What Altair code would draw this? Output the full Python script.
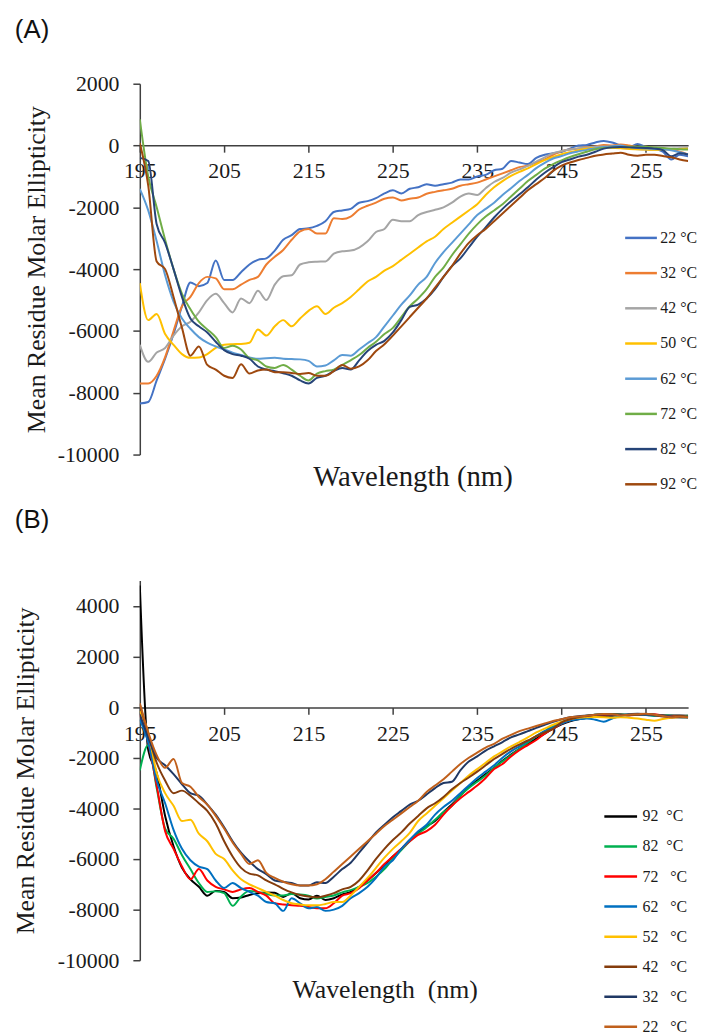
import altair as alt
import pandas as pd

WL = list(range(195, 261))
XTICKS = [195, 205, 215, 225, 235, 245, 255]

# ---------------- Panel A ----------------
A_LABELS = ["22 °C", "32 °C", "42 °C", "50 °C", "62 °C", "72 °C", "82 °C", "92 °C"]
A_COLORS = ["#4472C4", "#ED7D31", "#A5A5A5", "#FFC000", "#5B9BD5", "#70AD47", "#264478", "#9E480E"]

A_22 = [-8350, -8300, -7600, -6900, -6100, -5200, -4430, -4550, -4450, -3720,
        -4350, -4350, -4100, -3850, -3700, -3650, -3400, -3050, -2900, -2700,
        -2680, -2600, -2450, -2150, -2100, -2050, -1850, -1800, -1700, -1550,
        -1450, -1550, -1400, -1350, -1250, -1300, -1250, -1200, -1100, -1100,
        -1000, -950, -800, -750, -500, -550, -600, -400, -300, -250,
        -200, -100, 0, 20, 100, 150, 100, 0, -50, 50,
        -50, -100, -200, -450, -300, -350]
A_32 = [-7700, -7700, -7450, -6850, -6000, -5200, -4900, -4450, -4250, -4300,
        -4650, -4650, -4500, -4350, -4250, -3850, -3600, -3380, -3050, -2780,
        -2700, -2850, -2850, -2350, -2380, -2300, -2070, -1950, -1850, -1720,
        -1680, -1780, -1720, -1680, -1560, -1500, -1450, -1400, -1300, -1250,
        -1200, -1100, -1000, -900, -800, -700, -650, -550, -450, -300,
        -180, -130, -100, -50, -30, 20, 0, 30, 0, -50,
        -40, -80, -100, -130, -200, -290]
A_42 = [-6450, -7000, -6700, -6550, -6150, -5850, -5700, -5400, -5000, -4800,
        -5100, -5400, -4950, -5100, -4700, -5000, -4500, -4230, -4200, -3850,
        -3780, -3760, -3750, -3500, -3420, -3400, -3300, -3100, -2800, -2700,
        -2400, -2450, -2450, -2250, -2150, -2080, -2000, -1850, -1650, -1550,
        -1600, -1380, -1180, -1050, -880, -770, -660, -520, -380, -250,
        -180, -130, -90, -60, -40, -30, -50, -80, -100, -120,
        -130, -140, -120, -100, -90, -80]
A_50 = [-4450, -5650, -5450, -6100, -6450, -6750, -6870, -6860, -6750, -6550,
        -6450, -6430, -6420, -6380, -5950, -6150, -5850, -5650, -5850, -5600,
        -5350, -5200, -5450, -5250, -5100, -4900, -4650, -4400, -4250, -4050,
        -3900, -3700, -3500, -3300, -3100, -2950, -2700, -2500, -2300, -2100,
        -1900, -1600, -1350, -1150, -980, -850, -740, -600, -470, -370,
        -280, -220, -150, -100, -80, -70, -80, -90, -110, -120,
        -130, -140, -130, -120, -110, -100]
A_62 = [-1400, -2100, -3100, -4200, -5050, -5600, -5930, -6200, -6380, -6500,
        -6600, -6700, -6780, -6860, -6900, -6880, -6870, -6900, -6910, -6920,
        -6970, -7150, -7120, -6950, -6780, -6800, -6600, -6400, -6200, -5850,
        -5500, -5150, -4850, -4500, -4250, -3800, -3450, -3150, -2850, -2550,
        -2250, -2050, -1850, -1600, -1380, -1150, -950, -730, -560, -420,
        -340, -250, -190, -140, -90, -50, -20, 0, -50, -80,
        -100, -110, -120, -150, -220, -290]
A_72 = [850, -1000, -2000, -3050, -4000, -4800, -5300, -5700, -5950, -6200,
        -6550, -6480, -6600, -6880, -6950, -7150, -7200, -7100, -7250, -7450,
        -7600, -7380, -7300, -7250, -7100, -6950, -6780, -6550, -6350, -6100,
        -5900, -5550, -5200, -4950, -4650, -4250, -3950, -3550, -3200, -2850,
        -2550, -2300, -2100, -1900, -1650, -1400, -1150, -950, -750, -600,
        -480, -370, -280, -200, -120, -80, -60, -50, -40, -40,
        -40, -60, -80, -100, -120, -130]
A_82 = [-400, -500, -2550, -3150, -4000, -4900, -5600, -5850, -6050, -6350,
        -6620, -6750, -6800, -6900, -7150, -7250, -7300, -7370, -7450, -7600,
        -7700, -7520, -7450, -7300, -7200, -7250, -6950, -6650, -6450, -6320,
        -6050, -5650, -5220, -5150, -4950, -4650, -4250, -3900, -3650, -3300,
        -2950, -2650, -2330, -2050, -1800, -1580, -1350, -1100, -880, -700,
        -540, -450, -360, -300, -200, -100, -60, -50, -60, -70,
        -80, -100, -150, -350, -250, -290]
A_92 = [80, -1300, -3750, -4000, -4900, -5900, -6800, -6500, -7100, -7250,
        -7450, -7520, -7080, -7380, -7280, -7250, -7340, -7340, -7360, -7390,
        -7360, -7450, -7450, -7300, -7100, -7220, -7150, -6950, -6650, -6430,
        -6150, -5850, -5550, -5250, -4950, -4600, -4250, -3900, -3500, -3150,
        -2900, -2700, -2450, -2200, -1950, -1700, -1450, -1250, -1050, -820,
        -650, -550, -470, -400, -330, -290, -260, -230, -300, -330,
        -300, -300, -340, -380, -450, -500]
A_SERIES = [A_22, A_32, A_42, A_50, A_62, A_72, A_82, A_92]

# ---------------- Panel B ----------------
NB = "\u00a0"
B_LABELS = ["92" + NB * 2 + "°C", "82" + NB * 2 + "°C", "72" + NB * 3 + "°C", "62" + NB * 3 + "°C",
            "52" + NB * 3 + "°C", "42" + NB * 3 + "°C", "32" + NB * 3 + "°C", "22" + NB * 3 + "°C"]
B_COLORS = ["#000000", "#00B050", "#FF0000", "#0070C0", "#FFC000", "#843C0C", "#203864", "#C0601C"]

B_92 = [4800, -1700, -2600, -4300, -5500, -6350, -6800, -7100, -7450, -7260,
        -7300, -7550, -7520, -7420, -7350, -7320, -7330, -7500, -7350, -7550,
        -7600, -7450, -7620, -7550, -7400, -7300, -7100, -6850, -6550, -6250,
        -5900, -5600, -5250, -4950, -4700, -4500, -4150, -3850, -3500, -3150,
        -2900, -2650, -2400, -2120, -1880, -1650, -1450, -1250, -1050, -850,
        -680, -560, -480, -420, -380, -350, -340, -320, -300, -280,
        -290, -320, -340, -330, -330, -340]
B_82 = [-2500, -1500, -3200, -4800, -5200, -5850, -6400, -6950, -7300, -7280,
        -7350, -7850, -7480, -7260, -7300, -7380, -7440, -7440, -7380, -7400,
        -7450, -7560, -7500, -7440, -7320, -7230, -7100, -6950, -6700, -6400,
        -6000, -5650, -5300, -5000, -4750, -4450, -4150, -3900, -3500, -3200,
        -2950, -2700, -2400, -2150, -1900, -1650, -1400, -1150, -950, -760,
        -600, -480, -400, -340, -300, -280, -270, -280, -300, -280,
        -300, -350, -320, -340, -360, -340]
B_72 = [-300, -1400, -3100, -4900, -5600, -6300, -6800, -6400, -6850, -7100,
        -7200, -7300, -7200, -7150, -7300, -7450, -7750, -7800, -7830, -7850,
        -7900, -7950, -7950, -7750, -7450, -7350, -7150, -6850, -6550, -6200,
        -5900, -5600, -5300, -5050, -4900, -4650, -4250, -3900, -3600, -3350,
        -3100, -2800, -2450, -2250, -1950, -1700, -1500, -1300, -1050, -850,
        -650, -520, -430, -380, -340, -320, -300, -300, -320, -300,
        -290, -280, -330, -360, -370, -380]
B_62 = [-500, -1400, -2900, -3800, -4850, -5600, -6050, -6300, -6400, -6850,
        -7150, -6950, -7150, -7300, -7450, -7700, -7750, -8050, -7550, -7750,
        -7950, -7900, -8050, -8000, -7850, -7550, -7350, -7100, -6750, -6300,
        -6050, -5600, -5250, -4900, -4650, -4250, -3950, -3700, -3400, -3100,
        -2800, -2550, -2300, -2000, -1750, -1550, -1350, -1150, -950, -800,
        -650, -530, -480, -450, -500, -580, -450, -350, -320, -300,
        -310, -330, -350, -380, -400, -420]
B_52 = [-150, -1000, -2600, -3400, -3900, -4500, -4450, -5000, -5300, -5800,
        -6000, -6450, -6800, -7000, -7150, -7300, -7450, -7620, -7750, -7800,
        -7830, -7830, -7780, -7700, -7700, -7440, -7100, -6750, -6350, -5950,
        -5600, -5300, -4970, -4500, -4200, -3900, -3600, -3300, -3000, -2700,
        -2450, -2200, -1950, -1750, -1550, -1380, -1200, -1000, -850, -700,
        -580, -480, -420, -400, -390, -400, -420, -400, -420, -450,
        -500, -540, -470, -420, -400, -400]
B_42 = [100, -1100, -2200, -2900, -3400, -3300, -3500, -3800, -4100, -4600,
        -5300, -5900, -6350, -6580, -6650, -6850, -7000, -7180, -7320, -7420,
        -7480, -7520, -7450, -7350, -7200, -7100, -6850, -6450, -6000, -5600,
        -5250, -4950, -4600, -4300, -4000, -3800, -3550, -3250, -3000, -2780,
        -2550, -2300, -2050, -1850, -1650, -1480, -1320, -1150, -1000, -850,
        -600, -480, -400, -350, -300, -280, -290, -300, -320, -300,
        -280, -320, -370, -400, -380, -400]
B_32 = [-300, -1200, -2000, -2300, -2650, -3050, -3400, -3500, -3850, -4250,
        -4750, -5300, -5750, -6100, -6400, -6600, -6850, -6900, -6950, -7050,
        -7050, -6920, -6950, -6700, -6400, -6150, -5750, -5350, -4950, -4650,
        -4350, -4100, -3850, -3700, -3450, -3200, -3000, -2950, -2500, -2150,
        -1950, -1720, -1550, -1380, -1200, -1080, -950, -820, -700, -580,
        -480, -400, -360, -330, -300, -290, -300, -300, -280, -260,
        -280, -300, -330, -380, -400, -380]
B_22 = [150, -1000, -1900, -2400, -2050, -3000, -3150, -3550, -3850, -4300,
        -4800, -5350, -5800, -6200, -6050, -6550, -6750, -6900, -7000, -7050,
        -7050, -7000, -6800, -6500, -6200, -5900, -5600, -5300, -5000, -4700,
        -4450, -4200, -3950, -3700, -3350, -3100, -2850, -2550, -2250, -2000,
        -1800, -1600, -1450, -1250, -1100, -950, -850, -750, -650, -550,
        -480, -400, -370, -340, -300, -270, -280, -330, -300, -280,
        -260, -300, -350, -400, -380, -400]
B_SERIES = [B_92, B_82, B_72, B_62, B_52, B_42, B_32, B_22]


def long_frame(labels, series):
    rows = []
    for order, (lab, vals) in enumerate(zip(labels, series)):
        for w, v in zip(WL, vals):
            rows.append({"wl": w, "val": v, "series": lab, "ord": order})
    return pd.DataFrame(rows)


dfA = long_frame(A_LABELS, A_SERIES)
dfB = long_frame(B_LABELS, B_SERIES)

SERIF = "Liberation Serif"
SANS = "Liberation Sans"
AX = "#404040"
TXT = "#1a1a1a"
W = 553
HYPHEN_LABEL = "datum.value < 0 ? '-' + format(-datum.value, 'd') : format(datum.value, 'd')"


def make_panel(df, labels, colors, ydomain, yticks, height, zero_from_bottom,
               xtitle, xtitle_x, xtitle_y, ytitle_x, ytitle_size, xtitle_size,
               lab_size, leg_x, leg_y, leg_row_pad, leg_sym, leg_lab_off, leg_lab_size,
               panel_label, label_offset):
    x_axis = alt.Axis(values=XTICKS, offset=-zero_from_bottom, tickSize=7, tickWidth=1.5,
                      domainWidth=1.5, domainColor=AX, tickColor=AX, labelPadding=9,
                      labelFont=SERIF, labelFontSize=lab_size, labelColor=TXT,
                      labelFlush=False, labelOverlap=False, grid=False, format="d",
                      title=xtitle, titleFont=SERIF, titleFontSize=xtitle_size,
                      titleFontWeight="normal", titleColor=TXT, titleX=xtitle_x,
                      titleY=xtitle_y, titleBaseline="middle")
    y_axis = alt.Axis(values=yticks, tickSize=7, tickWidth=1.5, domainWidth=1.5,
                      domainColor=AX, tickColor=AX, labelPadding=14, labelFont=SERIF,
                      labelFontSize=lab_size, labelColor=TXT, labelFlush=False,
                      labelOverlap=False, grid=False, labelExpr=HYPHEN_LABEL,
                      title="Mean Residue Molar Ellipticity", titleFont=SERIF,
                      titleFontSize=ytitle_size, titleFontWeight="normal", titleColor=TXT,
                      titleX=ytitle_x, titleBaseline="middle")
    legend = alt.Legend(orient="none", legendX=leg_x, legendY=leg_y, title=None,
                        symbolType="stroke", symbolSize=leg_sym, symbolStrokeWidth=2.5,
                        labelFont=SERIF, labelFontSize=leg_lab_size, labelColor=TXT,
                        labelOffset=leg_lab_off, rowPadding=leg_row_pad, padding=0,
                        labelLimit=200)
    return alt.Chart(df).mark_line(strokeWidth=2, interpolate="monotone", clip=True).encode(
        x=alt.X("wl:Q", scale=alt.Scale(domain=[195, 260], nice=False, zero=False), axis=x_axis),
        y=alt.Y("val:Q", scale=alt.Scale(domain=ydomain, nice=False, zero=False), axis=y_axis),
        color=alt.Color("series:N", scale=alt.Scale(domain=labels, range=colors), legend=legend,
                        sort=labels),
        order=alt.Order("ord:Q"),
        detail="series:N",
    ).properties(
        width=W, height=height,
        title=alt.TitleParams(panel_label, anchor="start", frame="group", dx=-126,
                              offset=label_offset, font=SANS, fontSize=26,
                              fontWeight="normal", color="#111111"),
    )


chartA = make_panel(dfA, A_LABELS, A_COLORS, [-10000, 2000],
                    [-10000, -8000, -6000, -4000, -2000, 0, 2000], 374, 312,
                    "Wavelength (nm)", 275, 334, -104, 26, 29, 22,
                    488, 138, 9.5, 1024, 2, 16, "(A)", 30)
chartB = make_panel(dfB, B_LABELS, B_COLORS, [-10000, 5000],
                    [-10000, -8000, -6000, -4000, -2000, 0, 2000, 4000], 383, 255,
                    "Wavelength\u00a0\u00a0(nm)", 247, 285, -115, 26, 26, 22,
                    467, 220, 4.3, 1089, 4, 16, "(B)", 48)

chart = alt.vconcat(chartA, chartB, spacing=127, bounds="flush").resolve_scale(
    color="independent", x="independent", y="independent"
).resolve_legend(color="independent").configure_view(stroke=None).properties(
    padding={"left": 12, "top": 13, "right": 5, "bottom": 0}
)

chart.save("out.html", embed_options={"renderer": "svg", "actions": False})
